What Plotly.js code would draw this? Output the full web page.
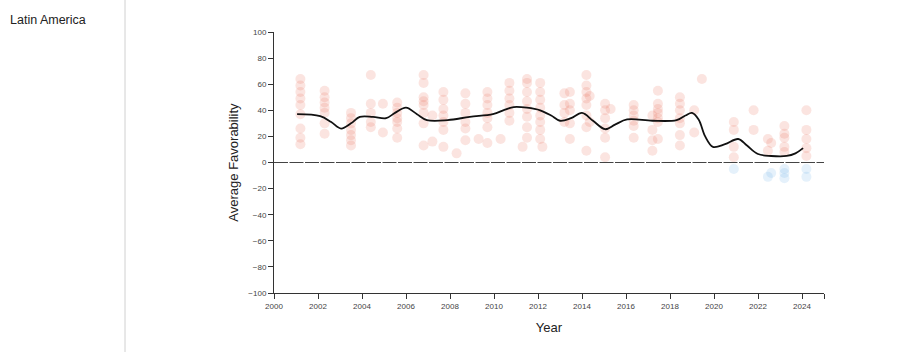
<!DOCTYPE html>
<html>
<head>
<meta charset="utf-8">
<script src="https://cdn.plot.ly/plotly-3.0.1.min.js"></script>
<style>
html,body{margin:0;padding:0;background:#fff;}
#chart{width:900px;height:352px;}
</style>
</head>
<body>
<div id="chart"></div>
<script>
// Region label
var regionName = "Latin America";

// Survey points (year, favorability) — positive values
var posYears = [
  2001.2,2001.2,2001.2,2001.2,2001.2,2001.2,2001.2,2001.2,2001.2,
  2002.3,2002.3,2002.3,2002.3,2002.3,2002.3,2002.3,
  2003.5,2003.5,2003.5,2003.5,2003.5,2003.5,2003.5,
  2004.4,2004.4,2004.4,2004.4,2004.4,
  2004.95,2004.95,
  2005.6,2005.6,2005.6,2005.6,2005.6,2005.6,2005.6,
  2006.8,2006.8,2006.8,2006.8,2006.8,2006.8,2006.8,2006.8,
  2007.2,2007.2,
  2007.7,2007.7,2007.7,2007.7,2007.7,2007.7,2007.7,
  2008.3,
  2008.7,2008.7,2008.7,2008.7,2008.7,2008.7,
  2009.3,
  2009.7,2009.7,2009.7,2009.7,2009.7,2009.7,2009.7,
  2010.3,
  2010.7,2010.7,2010.7,2010.7,2010.7,2010.7,
  2011.3,
  2011.5,2011.5,2011.5,2011.5,2011.5,2011.5,2011.5,2011.5,
  2012.1,2012.1,2012.1,2012.1,2012.1,2012.1,2012.1,2012.1,2012.2,
  2013.2,2013.2,2013.2,2013.2,
  2013.45,2013.45,2013.45,2013.45,2013.45,
  2014.2,2014.2,2014.2,2014.2,2014.2,2014.2,2014.2,2014.2,2014.35,2014.35,
  2015.05,2015.05,2015.05,2015.05,2015.05,2015.05,2015.3,
  2016.35,2016.35,2016.35,2016.35,2016.35,2016.35,
  2017.2,2017.2,2017.2,2017.2,
  2017.45,2017.45,2017.45,2017.45,2017.45,2017.45,2017.45,
  2018.45,2018.45,2018.45,2018.45,2018.45,2018.45,2018.45,
  2019.1,2019.1,
  2019.45,
  2020.9,2020.9,2020.9,2020.9,
  2021.8,2021.8,
  2022.45,2022.6,2022.45,
  2023.2,2023.2,2023.2,2023.2,2023.2,
  2024.2,2024.2,2024.2,2024.2,2024.2
];
var posValues = [
  64,59,54,49,44,37,26,19,14,
  55,50,46,42,38,30,22,
  38,34,30,25,21,17,13,
  67,45,38,31,27,
  45,23,
  46,42,38,34,31,26,19,
  67,61,50,47,44,38,30,13,
  36,16,
  54,48,41,36,31,25,12,
  7,
  53,45,38,31,26,17,
  18,
  54,49,44,38,34,27,15,
  18,
  61,55,49,44,38,32,
  12,
  64,61,54,47,41,35,27,19,
  61,54,48,42,36,31,25,18,12,
  53,44,38,31,
  54,45,40,30,18,
  67,59,54,49,44,36,27,9,51,31,
  45,40,34,26,19,4,41,
  44,40,36,32,28,19,
  36,25,17,9,
  55,45,41,38,34,31,18,
  50,45,40,34,30,21,13,
  40,23,
  64,
  31,25,12,4,
  40,25,
  18,15,9,
  28,22,19,12,8,
  40,25,11,5,18
];

// Survey points — negative values
var negYears = [2020.9, 2022.45, 2022.6, 2023.2, 2023.2, 2023.2, 2024.2, 2024.2];
var negValues = [-5, -11, -8, -5, -8, -12, -5, -11];

// Smoothed average trend
var trendYears = [2001.05,2002.1,2002.6,2003.05,2003.5,2003.9,2004.5,2005.1,2005.5,2006.0,2006.5,2006.95,2007.9,2008.9,2009.95,2010.5,2010.9,2011.5,2012.1,2012.6,2013.0,2013.5,2014.0,2014.5,2015.05,2015.5,2016.05,2017.2,2018.3,2018.7,2019.0,2019.3,2019.6,2019.95,2020.5,2021.1,2021.5,2022.0,2022.6,2023.3,2023.7,2024.05];
var trendValues = [37,35.5,31,26,30,35,35,34,38,42,37,32.5,32.5,35,37,40.5,42.5,42,40,36,32,34,38,32,25.5,29,33,32,32.5,36,38,33,20,12,14,18,13,6.5,5,5,7,11];

// Axis ticks
var xTickVals = [2000,2002,2004,2006,2008,2010,2012,2014,2016,2018,2020,2022,2024,2025];
var xTickText = ["2000","2002","2004","2006","2008","2010","2012","2014","2016","2018","2020","2022","2024",""];
var yTickVals = [-100,-80,-60,-40,-20,0,20,40,60,80,100];

var traces = [
  {
    type: "scatter", mode: "markers", x: posYears, y: posValues,
    marker: {size: 10, color: "rgba(236,110,90,0.19)", line: {width: 0}},
    hoverinfo: "x+y", showlegend: false
  },
  {
    type: "scatter", mode: "markers", x: negYears, y: negValues,
    marker: {size: 10, color: "rgba(110,175,235,0.18)", line: {width: 0}},
    hoverinfo: "x+y", showlegend: false
  },
  {
    type: "scatter", mode: "lines", x: trendYears, y: trendValues,
    line: {color: "#111", width: 1.8, shape: "spline", smoothing: 1},
    hoverinfo: "skip", showlegend: false
  }
];

var font = "Liberation Sans, Arial, Helvetica, sans-serif";

var layout = {
  width: 900, height: 352,
  margin: {l: 274, r: 76, t: 32, b: 59},
  paper_bgcolor: "#fff", plot_bgcolor: "#fff",
  font: {family: font, color: "#333"},
  showlegend: false,
  xaxis: {
    range: [2000, 2025], showgrid: false, zeroline: false,
    showline: true, linecolor: "#333", linewidth: 1,
    ticks: "outside", ticklen: 5, tickcolor: "#333", tickwidth: 1,
    tickmode: "array", tickvals: xTickVals, ticktext: xTickText,
    tickfont: {size: 8, color: "#444", family: font},
    title: {text: "Year", font: {size: 13, color: "#222", family: font}, standoff: 13}
  },
  yaxis: {
    range: [-100, 100], showgrid: false, zeroline: false,
    showline: true, linecolor: "#333", linewidth: 1,
    ticks: "outside", ticklen: 5, tickcolor: "#333", tickwidth: 1,
    tickmode: "array", tickvals: yTickVals,
    tickfont: {size: 8, color: "#444", family: font},
    title: {text: "Average Favorability", font: {size: 13, color: "#222", family: font}, standoff: 6}
  },
  shapes: [
    {type: "line", xref: "x", yref: "y", x0: 2000, x1: 2025, y0: 0, y1: 0,
     line: {color: "#444", width: 1.2, dash: "14px,1.5px"}},
    {type: "line", xref: "paper", yref: "paper", x0: -0.2709, x1: -0.2709, y0: -0.23, y1: 1.13,
     line: {color: "#d0d0d0", width: 1}}
  ],
  annotations: [
    {text: regionName, xref: "paper", yref: "paper", x: -0.4836, y: 1.046,
     xanchor: "left", yanchor: "middle", showarrow: false,
     font: {size: 12.5, color: "#222", family: font}}
  ]
};

Plotly.newPlot("chart", traces, layout, {displayModeBar: false, staticPlot: true});
</script>
</body>
</html>
